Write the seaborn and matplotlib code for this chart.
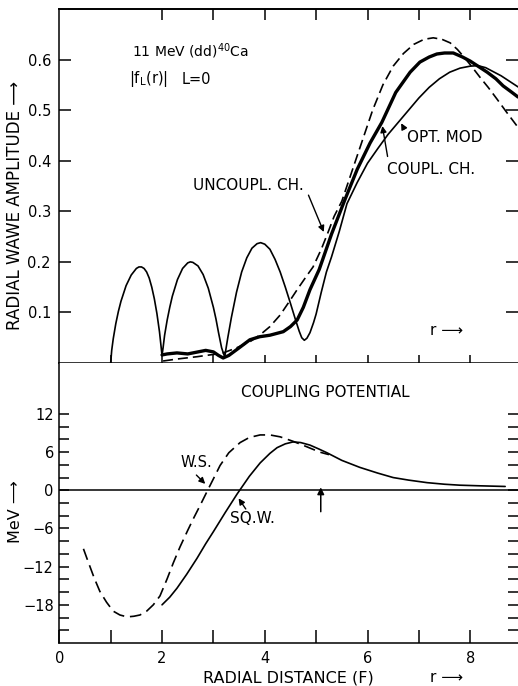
import numpy as np
import pandas as pd
import seaborn as sns
import matplotlib
matplotlib.use("Agg")
import matplotlib.pyplot as plt
from matplotlib.ticker import FixedLocator, NullFormatter

# ---------------- radial wave amplitudes |f_L(r)|, L = 0 ----------------
r_opt = [1.00, 1.02, 1.05, 1.10, 1.15, 1.20, 1.30, 1.40, 1.50, 1.55, 1.60, 1.65, 1.70, 1.75,
         1.80, 1.85, 1.90, 1.95, 2.00,
         2.02, 2.05, 2.10, 2.15, 2.20, 2.30, 2.40, 2.50, 2.55, 2.60, 2.70, 2.80, 2.90, 3.00,
         3.05, 3.10, 3.16, 3.22,
         3.24, 3.28, 3.35, 3.45, 3.55, 3.65, 3.75, 3.85, 3.92, 4.00, 4.10, 4.20, 4.30, 4.40,
         4.50, 4.60, 4.67, 4.72, 4.77, 4.82, 4.88, 4.95, 5.00, 5.10, 5.20, 5.30, 5.45, 5.60,
         5.80, 6.00, 6.20, 6.40, 6.60, 6.80, 7.00, 7.20, 7.40, 7.60, 7.80, 8.00, 8.15, 8.30,
         8.45, 8.60, 8.75, 8.93]
amp_opt = [0.000, 0.025, 0.048, 0.078, 0.102, 0.122, 0.153, 0.174, 0.187, 0.190, 0.190, 0.187, 0.180, 0.168,
           0.150, 0.127, 0.098, 0.062, 0.015,
           0.030, 0.055, 0.085, 0.110, 0.132, 0.165, 0.187, 0.198, 0.200, 0.199, 0.192, 0.175, 0.148, 0.110,
           0.087, 0.060, 0.030, 0.012,
           0.025, 0.050, 0.090, 0.140, 0.180, 0.208, 0.227, 0.236, 0.238, 0.235, 0.225, 0.205, 0.180, 0.150,
           0.118, 0.085, 0.063, 0.050, 0.045, 0.049, 0.060, 0.080, 0.097, 0.140, 0.180, 0.210, 0.260, 0.315,
           0.357, 0.395, 0.424, 0.452, 0.476, 0.500, 0.524, 0.545, 0.562, 0.575, 0.583, 0.587, 0.588, 0.584,
           0.576, 0.568, 0.558, 0.546]

r_coup = [2.00, 2.10, 2.29, 2.50, 2.70, 2.85, 3.00, 3.10, 3.19, 3.30, 3.50, 3.71, 3.90, 4.10,
          4.36, 4.50, 4.63, 4.75, 4.88, 5.06, 5.30, 5.56, 5.80, 6.05, 6.28, 6.55, 6.83, 7.02,
          7.20, 7.35, 7.50, 7.67, 7.85, 8.00, 8.15, 8.33, 8.50, 8.64, 8.80, 8.93]
amp_coup = [0.016, 0.018, 0.020, 0.018, 0.022, 0.025, 0.022, 0.015, 0.010, 0.015, 0.030, 0.046, 0.052, 0.055,
            0.062, 0.072, 0.085, 0.110, 0.145, 0.185, 0.255, 0.323, 0.383, 0.435, 0.476, 0.535, 0.575, 0.595,
            0.605, 0.611, 0.613, 0.613, 0.605, 0.597, 0.587, 0.575, 0.562, 0.548, 0.536, 0.526]

r_unc = [2.02, 2.30, 2.68, 3.00, 3.19, 3.45, 3.71, 3.90, 4.10, 4.30, 4.50, 4.63, 4.80, 4.94,
         5.10, 5.23, 5.35, 5.50, 5.70, 5.90, 6.10, 6.30, 6.50, 6.70, 6.90, 7.10, 7.28, 7.45,
         7.61, 7.75, 7.87, 8.00, 8.19, 8.35, 8.52, 8.70, 8.93]
amp_unc = [0.004, 0.008, 0.0125, 0.017, 0.020, 0.030, 0.042, 0.055, 0.072, 0.095, 0.125, 0.145, 0.170, 0.190,
           0.225, 0.258, 0.290, 0.320, 0.380, 0.440, 0.500, 0.550, 0.587, 0.612, 0.630, 0.640, 0.643, 0.640,
           0.633, 0.620, 0.606, 0.590, 0.565, 0.545, 0.522, 0.497, 0.466]

# ---------------- coupling potentials (MeV) ----------------
r_ws = [0.47, 0.56, 0.68, 0.79, 0.92, 1.05, 1.18, 1.32, 1.45, 1.57, 1.70, 1.83, 1.96, 2.10,
        2.22, 2.35, 2.50, 2.62, 2.74, 2.90, 3.00, 3.13, 3.30, 3.52, 3.70, 3.91, 4.10, 4.30,
        4.55, 4.80, 5.07, 5.25]
v_ws = [-9.2, -11.2, -13.8, -15.9, -17.6, -19.0, -19.6, -19.9, -19.8, -19.6, -19.0, -18.0, -16.6, -13.9,
        -11.4, -8.9, -6.3, -4.3, -2.4, 0.2, 1.8, 3.9, 5.9, 7.5, 8.3, 8.7, 8.7, 8.4,
        7.7, 6.9, 6.0, 5.6]

r_sqw = [2.00, 2.15, 2.29, 2.48, 2.68, 2.85, 3.00, 3.23, 3.46, 3.70, 3.91, 4.10, 4.24, 4.40,
         4.55, 4.70, 4.88, 5.05, 5.21, 5.50, 5.85, 6.20, 6.50, 6.80, 7.16, 7.50, 7.80, 8.20, 8.68]
v_sqw = [-18.0, -16.8, -15.4, -13.2, -10.7, -8.4, -6.5, -3.5, -0.6, 2.2, 4.3, 5.8, 6.7, 7.3,
         7.6, 7.5, 7.1, 6.5, 5.9, 4.7, 3.6, 2.7, 2.0, 1.6, 1.2, 0.95, 0.8, 0.7, 0.6]

amp_ticks = [0.1, 0.2, 0.3, 0.4, 0.5, 0.6]
mev_ticks = [-18, -12, -6, 0, 6, 12]
r_ticks = [0, 2, 4, 6, 8]

wave = pd.concat([
    pd.DataFrame({"r": r_opt, "amp": amp_opt, "curve": "OPT. MOD"}),
    pd.DataFrame({"r": r_coup, "amp": amp_coup, "curve": "COUPL. CH."}),
    pd.DataFrame({"r": r_unc, "amp": amp_unc, "curve": "UNCOUPL. CH."}),
], ignore_index=True)
pot = pd.concat([
    pd.DataFrame({"r": r_ws, "v": v_ws, "curve": "W.S."}),
    pd.DataFrame({"r": r_sqw, "v": v_sqw, "curve": "SQ.W."}),
], ignore_index=True)

sns.set_style("ticks", {"axes.edgecolor": "black", "xtick.color": "black",
                        "ytick.color": "black", "text.color": "black",
                        "axes.labelcolor": "black"})
plt.rcParams["font.family"] = ["DejaVu Sans"]
plt.rcParams["axes.linewidth"] = 1.1

fig = plt.figure(figsize=(5.18, 6.86), dpi=100)
ax1 = fig.add_axes([0.1145, 0.4708, 0.8855, 0.5161])
ax2 = fig.add_axes([0.1145, 0.0627, 0.8855, 0.4081])

sns.lineplot(data=wave, x="r", y="amp", style="curve", size="curve",
             sizes={"OPT. MOD": 1.2, "COUPL. CH.": 2.4, "UNCOUPL. CH.": 1.2},
             dashes={"OPT. MOD": "", "COUPL. CH.": "", "UNCOUPL. CH.": (6, 3)},
             color="black", estimator=None, sort=False, legend=False, ax=ax1)
sns.lineplot(data=pot, x="r", y="v", style="curve", size="curve",
             sizes={"W.S.": 1.2, "SQ.W.": 1.2},
             dashes={"W.S.": (7, 3.5), "SQ.W.": ""},
             color="black", estimator=None, sort=False, legend=False, ax=ax2)

for ax in (ax1, ax2):
    ax.set_xlim(0, 8.93)
    ax.set_xlabel("")
    ax.set_ylabel("")
    ax.spines["right"].set_visible(False)

# upper panel axes
ax1.set_ylim(0, 0.7)
ax1.yaxis.set_major_locator(FixedLocator(amp_ticks))
ax1.set_yticklabels([f"{t:.1f}" for t in amp_ticks])
ax1.xaxis.set_major_locator(FixedLocator(list(range(1, 9))))
ax1.xaxis.set_major_formatter(NullFormatter())
ax1.tick_params(axis="x", which="major", direction="inout", length=11, width=1.1,
                top=False, bottom=True, labelbottom=False)
ax1.tick_params(axis="y", which="major", direction="in", length=8.5, width=1.1,
                left=True, right=True, labelsize=10.5, pad=6)
top = ax1.secondary_xaxis("top")
top.xaxis.set_major_locator(FixedLocator(list(range(2, 9))))
top.xaxis.set_major_formatter(NullFormatter())
top.tick_params(direction="in", length=8, width=1.1)
top.spines["top"].set_linewidth(1.3)

# lower panel axes
ax2.set_ylim(-24, 20)
ax2.spines["top"].set_visible(False)
ax2.yaxis.set_major_locator(FixedLocator(mev_ticks))
ax2.yaxis.set_minor_locator(FixedLocator([t for t in range(-22, 13, 2) if t % 6]))
ax2.set_yticklabels([str(t).replace("-", "\u2212") for t in mev_ticks])
ax2.tick_params(axis="y", which="both", direction="in", length=7.5, width=1.1,
                left=True, right=True, labelsize=10.5, pad=4)
ax2.xaxis.set_major_locator(FixedLocator(r_ticks))
ax2.xaxis.set_minor_locator(FixedLocator([1, 3, 5, 7]))
ax2.set_xticklabels([str(t) for t in r_ticks])
ax2.tick_params(axis="x", which="both", direction="in", length=9.5, width=1.1,
                labelsize=10.5, pad=6)
ax2.axhline(0, color="black", lw=1.1)

arrow = dict(arrowstyle="-|>", color="black", lw=1.0, mutation_scale=9)

# annotations, upper panel
ax1.text(1.42, 0.617, "11 MeV (dd)$^{40}$Ca", fontsize=10, va="center")
ax1.text(1.36, 0.561, "|f$_\\mathregular{L}$(r)|", fontsize=10.5, va="center")
ax1.text(2.39, 0.561, "L=0", fontsize=10.5, va="center")
ax1.text(3.69, 0.351, "UNCOUPL. CH.", fontsize=11, ha="center", va="center")
ax1.annotate("", xy=(5.17, 0.254), xytext=(4.83, 0.337), arrowprops=arrow)
ax1.text(6.77, 0.446, "OPT. MOD", fontsize=11, va="center")
ax1.annotate("", xy=(6.63, 0.479), xytext=(6.74, 0.458), arrowprops=arrow)
ax1.text(6.38, 0.383, "COUPL. CH.", fontsize=11, va="center")
ax1.annotate("", xy=(6.28, 0.474), xytext=(6.40, 0.403), arrowprops=arrow)
ax1.text(7.22, 0.065, "r \u27f6", fontsize=11, va="center")

# annotations, lower panel
ax2.text(5.17, 15.4, "COUPLING POTENTIAL", fontsize=11, ha="center", va="center")
ax2.text(2.35, 4.4, "W.S.", fontsize=10.5, va="center")
ax2.annotate("", xy=(2.88, 0.7), xytext=(2.63, 2.7), arrowprops=arrow)
ax2.text(3.33, -4.5, "SQ.W.", fontsize=11, va="center")
ax2.annotate("", xy=(3.46, -0.9), xytext=(3.66, -3.3), arrowprops=arrow)
ax2.annotate("", xy=(5.09, 0.9), xytext=(5.09, -3.8),
             arrowprops=dict(arrowstyle="-|>", color="black", lw=1.1, mutation_scale=10))

# axis titles
fig.text(0.029, 0.701, "RADIAL WAWE AMPLITUDE \u27f6", rotation=90,
         fontsize=12, ha="center", va="center")
fig.text(0.029, 0.254, "MeV \u27f6", rotation=90, fontsize=11.5, ha="center", va="center")
fig.text(0.556, 0.0117, "RADIAL DISTANCE (F)", fontsize=11.5, ha="center", va="center")
fig.text(0.830, 0.0117, "r \u27f6", fontsize=11, va="center")

fig.savefig("out.png", dpi=100)
